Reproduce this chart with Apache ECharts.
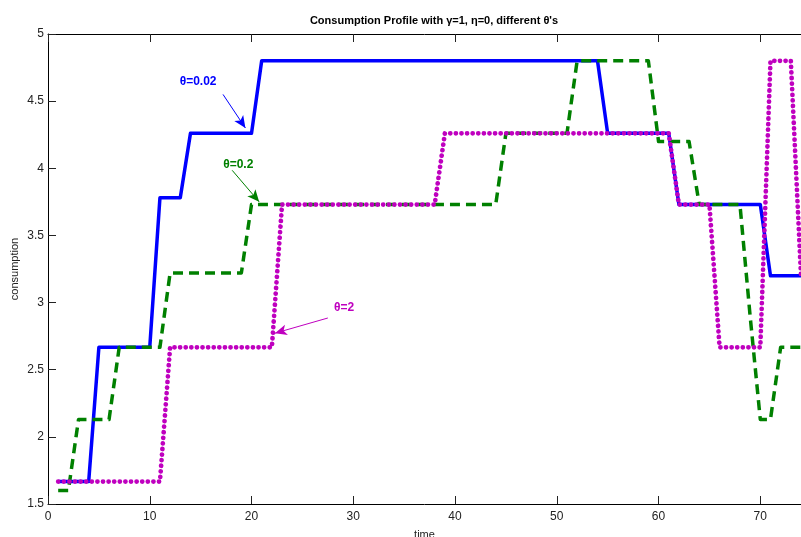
<!DOCTYPE html>
<html>
<head>
<meta charset="utf-8">
<script src="https://cdn.jsdelivr.net/npm/echarts@6/dist/echarts.min.js"></script>
<style>
html,body{margin:0;padding:0;background:#fff;}
#chart{width:801px;height:537px;}
</style>
</head>
<body>
<div id="chart"></div>
<script>
// time steps
const time = [];
for (let t = 1; t <= 74; t++) time.push(t);

// theta = 0.02 (blue, solid)
const theta002 = [
  1.667,1.667,1.667,1.667,
  2.667,2.667,2.667,2.667,2.667,2.667,
  3.78,3.78,3.78,
  4.26,4.26,4.26,4.26,4.26,4.26,4.26,
  4.8,4.8,4.8,4.8,4.8,4.8,4.8,4.8,4.8,4.8,
  4.8,4.8,4.8,4.8,4.8,4.8,4.8,4.8,4.8,4.8,
  4.8,4.8,4.8,4.8,4.8,4.8,4.8,4.8,4.8,4.8,
  4.8,4.8,4.8,4.8,
  4.26,4.26,4.26,4.26,4.26,4.26,4.26,
  3.73,3.73,3.73,3.73,3.73,3.73,3.73,3.73,3.73,
  3.2,3.2,3.2,3.2
];

// theta = 0.2 (green, dashed)
const theta02 = [
  1.6,1.6,
  2.13,2.13,2.13,2.13,
  2.667,2.667,2.667,2.667,2.667,
  3.22,3.22,3.22,3.22,3.22,3.22,3.22,3.22,
  3.73,3.73,3.73,3.73,3.73,3.73,3.73,3.73,3.73,3.73,
  3.73,3.73,3.73,3.73,3.73,3.73,3.73,3.73,3.73,3.73,
  3.73,3.73,3.73,3.73,3.73,
  4.26,4.26,4.26,4.26,4.26,4.26,4.26,
  4.8,4.8,4.8,4.8,4.8,4.8,4.8,4.8,
  4.2,4.2,4.2,4.2,
  3.73,3.73,3.73,3.73,3.73,
  2.9,
  2.13,2.13,
  2.667,2.667,2.667
];

// theta = 2 (magenta, dotted)
const theta2 = [
  1.667,1.667,1.667,1.667,1.667,1.667,1.667,1.667,1.667,1.667,1.667,
  2.667,2.667,2.667,2.667,2.667,2.667,2.667,2.667,2.667,2.667,2.667,
  3.73,3.73,3.73,3.73,3.73,3.73,3.73,3.73,3.73,3.73,3.73,3.73,3.73,3.73,3.73,3.73,
  4.26,4.26,4.26,4.26,4.26,4.26,4.26,4.26,4.26,4.26,4.26,
  4.26,4.26,4.26,4.26,4.26,4.26,4.26,4.26,4.26,4.26,4.26,4.26,
  3.73,3.73,3.73,3.73,
  2.667,2.667,2.667,2.667,2.667,
  4.8,4.8,4.8,
  3.2,3.2
];

const xTicks = [0,10,20,30,40,50,60,70];
const yTicks = [1.5,2,2.5,3,3.5,4,4.5,5];

const pairs = arr => time.map((t, i) => [t, arr[i]]);

const chart = echarts.init(document.getElementById('chart'), null, {renderer: 'canvas'});

const FONT = 'Liberation Sans, Arial, Helvetica, sans-serif';
const BLUE = '#0000ff', GREEN = '#008000', MAG = '#bf00bf';

function arrow(color, from, to) {
  return {
    silent: true,
    symbol: ['none', 'arrow'],
    symbolSize: [8, 12],
    lineStyle: {color: color, width: 1, type: 'solid'},
    label: {show: false},
    emphasis: {disabled: true},
    animation: false,
    data: [[{coord: from}, {coord: to}]]
  };
}
function note(color, text, at) {
  return {
    silent: true,
    symbol: 'rect',
    symbolSize: 0,
    animation: false,
    label: {show: true, position: 'inside', formatter: text, color: color,
            fontFamily: FONT, fontWeight: 'bold', fontSize: 12},
    data: [{coord: at}]
  };
}

chart.setOption({
  animation: false,
  backgroundColor: '#fff',
  title: {
    text: "Consumption Profile with γ=1, η=0, different θ's",
    left: 429, top: 10, textAlign: 'center',
    textStyle: {fontFamily: FONT, fontSize: 11, fontWeight: 'bold', color: '#000'}
  },
  grid: {left: 48, right: 0, top: 34, bottom: 33, containLabel: false, outerBoundsMode: 'none'},
  xAxis: [{
    type: 'value', min: 0, max: 74, interval: 10,
    name: 'time', nameLocation: 'middle', nameGap: 25, nameMoveOverlap: false,
    nameTextStyle: {fontFamily: FONT, fontSize: 11, color: '#222'},
    axisLine: {show: true, onZero: false, lineStyle: {color: '#000', width: 1}},
    axisTick: {show: true, inside: true, length: 8, lineStyle: {color: '#222'}},
    axisLabel: {fontFamily: FONT, fontSize: 12, color: '#222', margin: 7, showMaxLabel: false},
    splitLine: {show: false}
  }, {
    type: 'value', min: 0, max: 74, interval: 10, position: 'top',
    axisLine: {show: true, onZero: false, lineStyle: {color: '#000', width: 1}},
    axisTick: {show: true, inside: true, length: 8, lineStyle: {color: '#222'}},
    axisLabel: {show: false},
    splitLine: {show: false}
  }],
  yAxis: {
    type: 'value', min: 1.5, max: 5, interval: 0.5,
    name: 'consumption', nameLocation: 'middle', nameGap: 28, nameRotate: 90,
    nameMoveOverlap: false,
    nameTextStyle: {fontFamily: FONT, fontSize: 11, color: '#222'},
    axisLine: {show: true, onZero: false, lineStyle: {color: '#000', width: 1}},
    axisTick: {show: true, inside: true, length: 8, lineStyle: {color: '#222'}},
    axisLabel: {fontFamily: FONT, fontSize: 12, color: '#222', margin: 4,
                formatter: v => String(v)},
    splitLine: {show: false}
  },
  series: [
    {
      name: 'θ=0.02', type: 'line', data: pairs(theta002), showSymbol: false,
      lineStyle: {color: BLUE, width: 3.5, type: 'solid', join: 'round'},
      itemStyle: {color: BLUE}, z: 3,
      markLine: arrow(BLUE, [17.2, 4.55], [19.4, 4.3]),
      markPoint: note(BLUE, 'θ=0.02', [14.75, 4.645])
    },
    {
      name: 'θ=0.2', type: 'line', data: pairs(theta02), showSymbol: false,
      lineStyle: {color: GREEN, width: 3.5, type: [10, 6], join: 'round'},
      itemStyle: {color: GREEN}, z: 4,
      markLine: arrow(GREEN, [18.1, 3.985], [20.75, 3.75]),
      markPoint: note(GREEN, 'θ=0.2', [18.7, 4.025])
    },
    {
      name: 'θ=2', type: 'line', data: pairs(theta2), showSymbol: false,
      lineStyle: {color: MAG, width: 4.7, type: [0.1, 5.5], cap: 'round', join: 'round'},
      itemStyle: {color: MAG}, z: 5,
      markLine: arrow(MAG, [27.5, 2.885], [22.3, 2.772]),
      markPoint: note(MAG, 'θ=2', [29.1, 2.96])
    }
  ]
});
</script>
</body>
</html>
